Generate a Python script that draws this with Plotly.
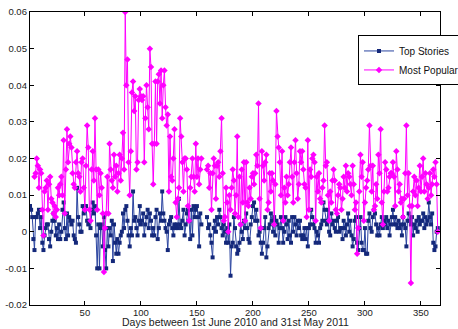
import plotly.graph_objects as go

nan = None

most_popular = [
    nan, nan, nan, nan, 0.015, 0.016, 0.020, 0.018, 0.012, 0.017,
    0.016, 0.006, -0.001, 0.011, 0.012, 0.014, 0.006, 0.013, 0.015, 0.009,
    0.008, 0.005, 0.007, 0.004, 0.006, 0.012, 0.010, 0.013, 0.015, 0.010,
    0.025, 0.005, 0.017, 0.028, 0.019, 0.024, 0.026, 0.023, 0.016, 0.013,
    0.012, 0.019, 0.022, 0.016, 0.015, 0.011, 0.019, 0.020, 0.012, 0.006,
    0.018, 0.029, 0.023, 0.006, 0.003, 0.017, 0.022, 0.014, 0.031, 0.017,
    0.006, 0.017, 0.010, 0.016, 0.012, 0.005, -0.011, 0.001, 0.005, 0.015,
    0.005, 0.024, 0.017, 0.014, 0.012, 0.021, 0.015, 0.018, 0.011, 0.016,
    0.021, 0.014, 0.020, 0.027, 0.017, 0.060, 0.040, 0.047, 0.019, 0.010,
    0.022, 0.038, 0.041, 0.033, 0.037, 0.017, 0.019, 0.036, 0.039, 0.037,
    0.036, 0.037, 0.019, 0.031, 0.040, 0.034, 0.028, 0.050, 0.045, 0.024,
    0.013, 0.024, 0.041, 0.024, 0.041, 0.043, 0.035, 0.044, 0.031, 0.040,
    0.044, 0.034, 0.029, 0.032, 0.011, 0.026, 0.015, 0.014, 0.020, 0.028,
    0.008, 0.004, 0.009, 0.012, 0.031, 0.026, 0.019, 0.011, 0.020, 0.020,
    0.017, 0.007, 0.003, 0.012, 0.015, 0.020, 0.015, 0.011, 0.024, 0.015,
    0.020, 0.013, 0.017, 0.020, nan, nan, nan, nan, 0.017, 0.018,
    0.012, 0.016, 0.006, 0.016, 0.020, 0.018, 0.009, 0.018, 0.019, 0.015,
    0.022, 0.031, 0.016, 0.003, 0.004, 0.012, 0.008, 0.000, 0.010, 0.006,
    0.012, 0.017, 0.014, 0.005, 0.010, 0.026, 0.004, 0.015, 0.002, 0.017,
    0.008, 0.019, 0.003, 0.019, 0.008, 0.007, 0.012, 0.009, 0.015, 0.016,
    0.013, 0.016, 0.021, 0.018, 0.035, 0.009, 0.001, 0.022, 0.018, 0.014,
    0.019, 0.021, 0.006, 0.008, 0.016, 0.011, 0.016, 0.014, 0.002, 0.013,
    0.033, 0.026, 0.023, 0.019, 0.010, 0.022, 0.003, 0.012, 0.008, 0.015,
    0.010, 0.013, 0.019, 0.023, 0.015, 0.008, 0.019, 0.025, 0.016, 0.009,
    0.013, 0.022, 0.019, 0.022, 0.017, 0.013, 0.012, 0.004, 0.025, 0.006,
    0.017, 0.015, 0.020, 0.021, 0.019, 0.003, 0.015, 0.011, 0.016, 0.009,
    0.008, 0.012, 0.014, 0.029, 0.018, 0.019, 0.010, 0.003, 0.011, 0.008,
    0.014, 0.017, 0.014, 0.006, 0.005, 0.010, 0.013, 0.012, 0.006, 0.009,
    0.015, 0.012, 0.018, 0.011, 0.016, 0.015, 0.013, 0.010, 0.018, 0.013,
    0.006, 0.008, -0.006, 0.001, 0.011, 0.021, 0.015, 0.019, 0.003, 0.008,
    0.012, 0.014, 0.017, 0.029, 0.018, 0.011, 0.018, 0.006, 0.007, 0.013,
    0.009, 0.021, 0.016, 0.028, 0.008, 0.002, 0.011, 0.019, 0.017, 0.011,
    0.012, 0.015, 0.016, 0.016, 0.019, 0.015, 0.007, 0.022, 0.017, 0.011,
    0.013, 0.008, 0.009, 0.004, 0.009, 0.016, 0.029, 0.010, 0.016, 0.007,
    -0.014, 0.007, 0.011, 0.015, 0.010, 0.014, 0.007, 0.012, 0.018, 0.011,
    0.015, 0.020, 0.011, 0.016, 0.013, 0.009, 0.012, 0.016, 0.010, 0.013,
    0.017, 0.015, 0.019, 0.013, 0.000,
]

top_stories = [
    0.007, 0.006, 0.004, -0.002, -0.005, 0.004, 0.004, 0.005, 0.006, 0.001,
    0.004, -0.003, -0.005, -0.001, 0.001, 0.002, 0.002, -0.002, -0.004, 0.000,
    0.003, 0.005, 0.003, -0.001, 0.001, -0.002, 0.002, -0.002, 0.000, 0.006,
    0.008, 0.001, -0.002, 0.005, -0.001, 0.004, 0.003, 0.002, 0.003, -0.001,
    -0.002, -0.003, 0.012, 0.004, 0.002, 0.000, 0.000, 0.007, 0.005, 0.007,
    0.007, 0.003, 0.002, 0.003, 0.001, 0.006, 0.008, 0.005, 0.007, -0.001,
    -0.010, 0.002, -0.010, 0.001, 0.002, -0.004, 0.004, -0.005, -0.010, 0.001,
    -0.004, 0.001, -0.001, 0.003, -0.008, 0.002, -0.003, -0.006, -0.002, -0.006,
    -0.003, -0.001, 0.000, 0.005, 0.001, 0.006, 0.007, 0.003, -0.001, -0.004,
    0.001, -0.001, 0.011, 0.003, 0.004, 0.001, -0.001, 0.003, 0.007, 0.002,
    0.003, 0.005, -0.001, 0.002, 0.004, 0.006, 0.001, 0.005, 0.003, -0.001,
    0.001, -0.001, 0.004, 0.006, -0.002, 0.001, 0.005, 0.003, 0.011, 0.005,
    0.003, 0.001, 0.000, -0.005, 0.002, 0.003, 0.004, 0.001, -0.001, 0.002,
    0.001, 0.002, 0.001, 0.009, 0.002, 0.001, 0.003, 0.006, -0.001, 0.002,
    0.005, 0.006, 0.003, -0.002, 0.006, -0.001, 0.007, 0.004, 0.006, 0.007,
    0.004, -0.004, 0.005, 0.002, nan, nan, nan, nan, 0.004, 0.001,
    0.002, -0.001, -0.003, -0.007, 0.001, 0.003, 0.000, 0.004, 0.002, 0.006,
    0.004, 0.001, -0.001, 0.002, 0.000, -0.003, 0.001, -0.003, 0.002, -0.012,
    -0.004, -0.003, 0.004, 0.001, -0.004, -0.006, -0.005, -0.003, 0.002, 0.000,
    -0.002, 0.003, 0.001, 0.005, 0.001, -0.002, -0.003, 0.002, 0.004, 0.007,
    0.008, 0.003, 0.006, 0.003, -0.001, 0.000, -0.003, -0.006, -0.003, 0.001,
    0.004, -0.007, -0.004, 0.001, 0.002, 0.005, 0.003, 0.000, 0.004, -0.001,
    0.003, 0.002, -0.003, 0.001, 0.004, 0.001, -0.003, 0.000, 0.004, 0.002,
    -0.002, 0.003, -0.001, -0.003, 0.004, 0.000, 0.004, 0.002, -0.001, 0.003,
    0.001, 0.003, -0.001, -0.002, -0.001, 0.001, -0.002, 0.001, -0.004, 0.001,
    0.002, 0.006, 0.004, 0.002, 0.001, -0.003, 0.000, -0.001, -0.003, 0.001,
    0.002, 0.003, 0.008, 0.006, 0.003, 0.002, 0.006, 0.000, -0.001, 0.005,
    0.002, 0.003, 0.001, 0.000, 0.003, 0.004, 0.000, 0.001, 0.001, -0.002,
    0.003, 0.001, -0.001, 0.002, 0.005, 0.000, 0.003, -0.001, -0.004, -0.002,
    0.003, 0.004, -0.003, -0.005, 0.001, 0.004, -0.003, -0.005, -0.005, 0.001,
    -0.006, -0.006, 0.003, 0.005, 0.001, 0.000, 0.004, 0.006, 0.005, 0.002,
    -0.001, 0.001, -0.001, 0.002, 0.004, 0.001, 0.003, 0.002, 0.004, 0.001,
    0.003, -0.001, 0.002, 0.004, 0.006, 0.002, 0.004, 0.002, 0.001, 0.003,
    0.001, 0.002, -0.001, 0.004, 0.002, 0.001, -0.004, 0.003, 0.005, 0.003,
    0.002, 0.004, -0.001, 0.002, 0.001, 0.003, 0.000, 0.004, 0.002, 0.003,
    0.003, 0.005, 0.001, 0.004, 0.002, 0.003, 0.008, 0.004, 0.002, 0.005,
    -0.003, -0.005, -0.004, 0.000, 0.001,
]

days = list(range(1, 366))
x_ticks = [50, 100, 150, 200, 250, 300, 350]
y_ticks = [-0.02, -0.01, 0, 0.01, 0.02, 0.03, 0.04, 0.05, 0.06]
y_tick_labels = ["-0.02", "-0.01", "0", "0.01", "0.02", "0.03", "0.04", "0.05", "0.06"]
x_title = "Days between 1st June 2010 and 31st May 2011"

fig = go.Figure()
fig.add_trace(go.Scatter(
    x=days, y=top_stories, name="Top Stories", mode="lines+markers",
    line=dict(color="#2a44a0", width=1),
    marker=dict(symbol="square", size=4, color="#14287a"),
    connectgaps=False,
))
fig.add_trace(go.Scatter(
    x=days, y=most_popular, name="Most Popular", mode="lines+markers",
    line=dict(color="#ff00ff", width=1),
    marker=dict(symbol="diamond", size=5, color="#ff00ff"),
    connectgaps=False,
))

axis_common = dict(
    showgrid=False, zeroline=False, showline=True, linecolor="black", linewidth=1.3,
    mirror="allticks", ticks="inside", ticklen=4, tickcolor="black",
    tickfont=dict(family="Liberation Sans, Arial", size=9.5, color="#222"),
    automargin=False,
)

fig.update_xaxes(range=[1, 367], tickvals=x_ticks, ticklabelstandoff=-2, **axis_common)
fig.update_yaxes(range=[-0.02, 0.06], tickvals=y_ticks, ticktext=y_tick_labels, **axis_common)

fig.add_annotation(
    text=x_title, xref="paper", yref="paper", x=0.5, y=0, yanchor="middle",
    yshift=-17, showarrow=False, borderpad=0,
    font=dict(family="Liberation Sans, Arial", size=10.5, color="#222"),
)

fig.update_layout(
    width=458, height=329,
    margin=dict(l=30, r=18, t=12, b=24, autoexpand=False),
    paper_bgcolor="white", plot_bgcolor="white",
    showlegend=True,
    legend=dict(x=0.80, y=0.92, xanchor="left", yanchor="top",
                bgcolor="white", bordercolor="black", borderwidth=1,
                font=dict(family="Liberation Sans, Arial", size=10, color="#111"),
                itemwidth=30, tracegroupgap=0),
)

fig.write_html("out.html")
